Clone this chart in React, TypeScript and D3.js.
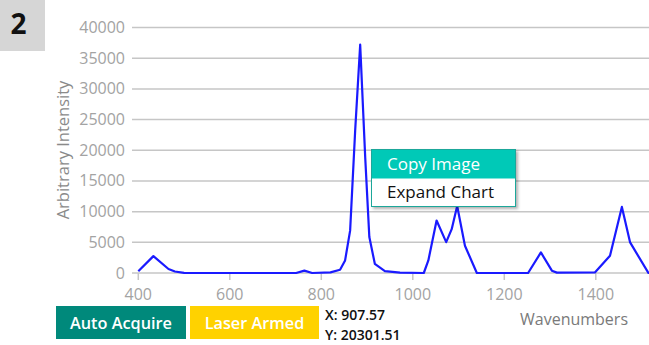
import { useEffect, useRef } from "react";
import { select, scaleLinear, line, curveLinear } from "d3";

const wavenumbers = [
  400, 433, 466, 480, 500, 520, 745, 763, 780, 820, 841, 852, 863, 874, 885,
  896, 905, 917, 939, 972, 1024, 1034, 1052, 1073, 1085, 1097, 1114, 1140,
  1252, 1280, 1304, 1315, 1398, 1431, 1457, 1475, 1515, 1540,
];
const intensities = [
  280, 2750, 650, 250, 30, 0, 0, 380, 0, 100, 540, 2050, 6900, 23150, 37200,
  18800, 5850, 1500, 320, 50, 0, 2050, 8550, 5030, 7140, 10930, 4440, 0, 0,
  3350, 380, 60, 80, 2810, 10770, 4980, 0, 0,
];
const yTicks = [0, 5000, 10000, 15000, 20000, 25000, 30000, 35000, 40000];
const xTicks = [400, 600, 800, 1000, 1200, 1400];

const W = 649;
const H = 345;
const FONT = "'Open Sans', 'Noto Sans', sans-serif";

const App = () => {
  const svgRef = useRef<SVGSVGElement>(null);

  useEffect(() => {
    const svg = select(svgRef.current);
    svg.selectAll("*").remove();

    const xScale = scaleLinear().domain([400, 1600]).range([138.3, 687.3]);
    const yScale = scaleLinear().domain([0, 40000]).range([273, 27.5]);

    // shadow for the popup menu
    const defs = svg.append("defs");
    defs
      .append("filter")
      .attr("id", "menuShadow")
      .attr("x", "-10%")
      .attr("y", "-10%")
      .attr("width", "130%")
      .attr("height", "140%")
      .append("feDropShadow")
      .attr("dx", 2)
      .attr("dy", 2)
      .attr("stdDeviation", 1.5)
      .attr("flood-color", "#000")
      .attr("flood-opacity", 0.3);

    // gridlines
    svg
      .append("g")
      .selectAll("line")
      .data(yTicks)
      .enter()
      .append("line")
      .attr("x1", 132)
      .attr("x2", W)
      .attr("y1", (d) => yScale(d))
      .attr("y2", (d) => yScale(d))
      .attr("stroke", "#c6c6c6")
      .attr("stroke-width", 1.5);

    // y tick labels
    svg
      .append("g")
      .selectAll("text")
      .data(yTicks)
      .enter()
      .append("text")
      .attr("x", 125)
      .attr("y", (d) => yScale(d) + 5.5)
      .attr("text-anchor", "end")
      .attr("font-family", FONT)
      .attr("font-size", 16)
      .attr("fill", "#a3a3a3")
      .text((d) => d);

    // x ticks
    const xg = svg.append("g");
    xg.selectAll("line")
      .data(xTicks)
      .enter()
      .append("line")
      .attr("x1", (d) => xScale(d))
      .attr("x2", (d) => xScale(d))
      .attr("y1", yScale(0))
      .attr("y2", yScale(0) + 7)
      .attr("stroke", "#c6c6c6")
      .attr("stroke-width", 1.5);
    xg.selectAll("text")
      .data(xTicks)
      .enter()
      .append("text")
      .attr("x", (d) => xScale(d))
      .attr("y", 300)
      .attr("text-anchor", "middle")
      .attr("font-family", FONT)
      .attr("font-size", 16)
      .attr("fill", "#a3a3a3")
      .text((d) => d);

    // axis titles
    svg
      .append("text")
      .attr("transform", "translate(69,150) rotate(-90)")
      .attr("text-anchor", "middle")
      .attr("font-family", FONT)
      .attr("font-size", 16.5)
      .attr("fill", "#8a8a8a")
      .text("Arbitrary Intensity");
    svg
      .append("text")
      .attr("x", 520)
      .attr("y", 325)
      .attr("font-family", FONT)
      .attr("font-size", 16)
      .attr("fill", "#7a7a7a")
      .text("Wavenumbers");

    // spectrum
    const pts: [number, number][] = wavenumbers.map((w, i) => [w, intensities[i]]);
    const spectrum = line<[number, number]>()
      .x((d) => xScale(d[0]))
      .y((d) => yScale(d[1]))
      .curve(curveLinear);
    svg
      .append("path")
      .datum(pts)
      .attr("d", spectrum)
      .attr("fill", "none")
      .attr("stroke", "#1a1aff")
      .attr("stroke-width", 2.2)
      .attr("stroke-linejoin", "round");

    // panel number
    svg.append("rect").attr("x", 0).attr("y", 0).attr("width", 45).attr("height", 51).attr("fill", "#d6d6d6");
    svg
      .append("text")
      .attr("x", 18.5)
      .attr("y", 33.5)
      .attr("text-anchor", "middle")
      .attr("font-family", FONT)
      .attr("font-weight", 700)
      .attr("font-size", 28)
      .attr("fill", "#111")
      .text("2");

    // status buttons
    const buttons = [
      { label: "Auto Acquire", x: 56, w: 130, fill: "#00897b" },
      { label: "Laser Armed", x: 190, w: 129, fill: "#ffd200" },
    ];
    buttons.forEach((b) => {
      svg.append("rect").attr("x", b.x).attr("y", 306).attr("width", b.w).attr("height", 33).attr("fill", b.fill);
      svg
        .append("text")
        .attr("x", b.x + b.w / 2)
        .attr("y", 328.5)
        .attr("text-anchor", "middle")
        .attr("font-family", FONT)
        .attr("font-weight", 600)
        .attr("font-size", 16.3)
        .attr("fill", "#fff")
        .text(b.label);
    });

    // cursor readout
    ["X: 907.57", "Y: 20301.51"].forEach((t, i) => {
      svg
        .append("text")
        .attr("x", 325)
        .attr("y", 320 + i * 20)
        .attr("font-family", FONT)
        .attr("font-weight", 600)
        .attr("font-size", 14)
        .attr("fill", "#111")
        .text(t);
    });

    // context menu
    const menu = svg.append("g");
    menu
      .append("rect")
      .attr("x", 371.5)
      .attr("y", 149.5)
      .attr("width", 144)
      .attr("height", 57)
      .attr("fill", "#fff")
      .attr("stroke", "#1aa79a")
      .attr("filter", "url(#menuShadow)");
    menu.append("rect").attr("x", 372).attr("y", 150).attr("width", 143).attr("height", 28.5).attr("fill", "#00c9b7");
    menu
      .append("text")
      .attr("x", 387)
      .attr("y", 169.5)
      .attr("font-family", FONT)
      .attr("font-size", 17)
      .attr("fill", "#fff")
      .text("Copy Image");
    menu
      .append("text")
      .attr("x", 387)
      .attr("y", 197.5)
      .attr("font-family", FONT)
      .attr("font-size", 17)
      .attr("fill", "#111")
      .text("Expand Chart");
  }, []);

  return (
    <svg
      ref={svgRef}
      width={W}
      height={H}
      style={{ position: "absolute", left: 0, top: 0, background: "#fff" }}
    ></svg>
  );
};

export default App;
